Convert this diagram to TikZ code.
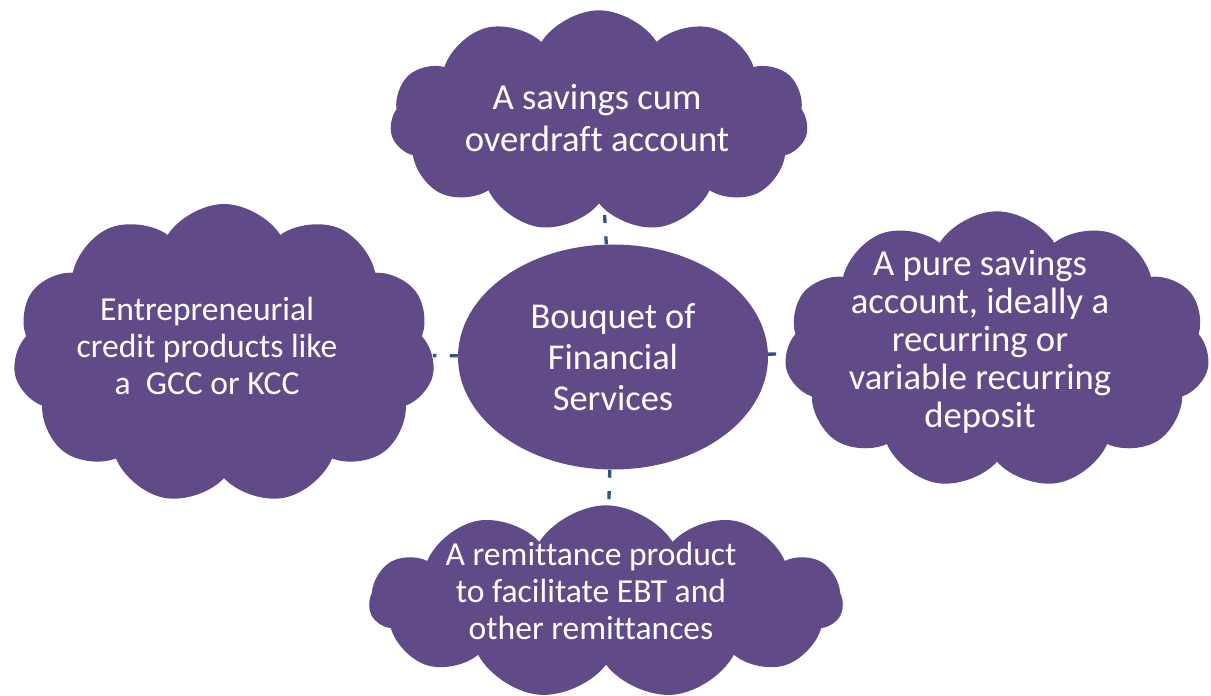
\documentclass[tikz,border=0pt]{standalone}
\usepackage{fontspec}
\setmainfont{Carlito}[Ligatures=NoCommon]
\usepackage{xcolor}
\usetikzlibrary{shapes.geometric, shapes.symbols, backgrounds}
\definecolor{plum}{RGB}{96,74,135}
\definecolor{linkblue}{RGB}{47,86,128}
\tikzset{
  cloudbox/.style={cloud, cloud puffs=11, cloud puff arc=115, cloud ignores aspect, fill=plum, draw=none, inner sep=0pt},
  hub/.style={ellipse, fill=plum, draw=none, inner sep=0pt},
  txt/.style={text=white, align=center, inner sep=0pt},
  link/.style={linkblue, line width=2.5pt, dash pattern=on 6pt off 10pt}
}
\begin{document}
\begin{tikzpicture}[x=0.75pt, y=-0.75pt]
\useasboundingbox (0,0) rectangle (1211,696);
% 中心
\node[hub, minimum width=232.5pt, minimum height=168.75pt] (bouquet) at (613,357) {};
\node[txt, font=\fontsize{27.3}{31}\selectfont] (bouquetText) at (bouquet) {Bouquet of\\Financial\\Services};
% 四朵云
\node[cloudbox, minimum width=313.5pt, minimum height=166pt] (overdraft) at (599,121) {};
\node[txt, font=\fontsize{27.5}{32}\selectfont] (overdraftText) at (597,118) {A savings cum\\overdraft account};
\node[cloudbox, minimum width=316.5pt, minimum height=225pt] (credit) at (224,354) {};
\node[txt, font=\fontsize{25.2}{27.5}\selectfont] (creditText) at (207,346) {Entrepreneurial\\credit products like\\a\ \ GCC or KCC};
\node[cloudbox, minimum width=319pt, minimum height=208pt] (savings) at (997,350) {};
\node[txt, font=\fontsize{27.5}{28.5}\selectfont] (savingsText) at (980,342) {A pure savings\\account, ideally a\\recurring or\\variable recurring\\deposit};
\node[cloudbox, minimum width=355pt, minimum height=145pt] (remit) at (606,602) {};
\node[txt, font=\fontsize{25.2}{27.5}\selectfont] (remitText) at (591,591) {A remittance product\\to facilitate EBT and\\other remittances};
% 连线
\begin{scope}[on background layer]
\draw[link] (bouquet) -- (overdraft);
\draw[link] (bouquet) -- (credit);
\draw[link] (bouquet) -- (savings);
\draw[link] (bouquet) -- (remit);
\end{scope}
\end{tikzpicture}
\end{document}
